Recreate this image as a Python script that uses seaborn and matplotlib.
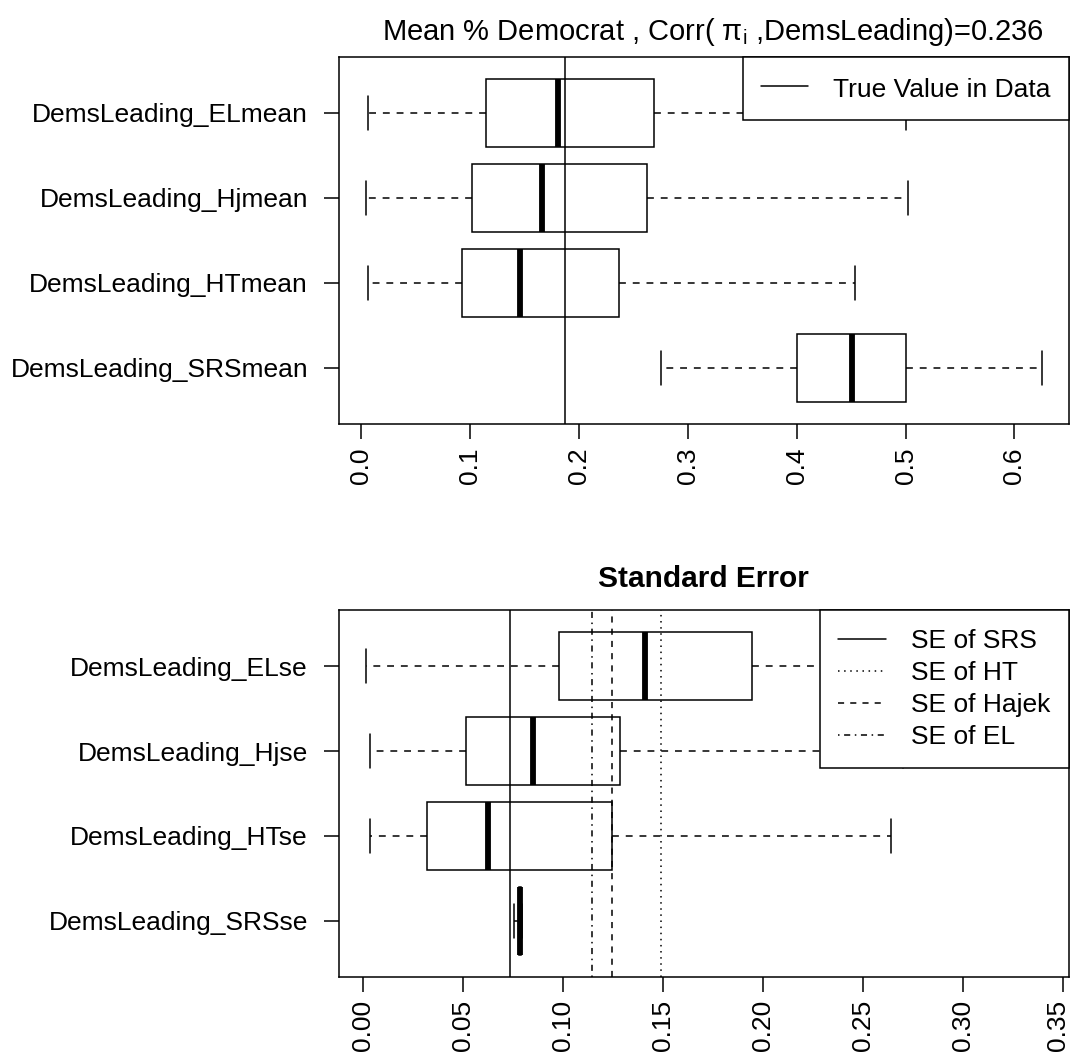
import numpy as np
import pandas as pd
import matplotlib
matplotlib.use("Agg")
import matplotlib.pyplot as plt
import matplotlib.transforms as mtransforms
from matplotlib.lines import Line2D
import seaborn as sns

# ---------------- data (five-number summaries) ----------------
mean_labels = ["DemsLeading_ELmean", "DemsLeading_Hjmean", "DemsLeading_HTmean", "DemsLeading_SRSmean"]
mean_min = [0.0060, 0.0039, 0.0060, 0.2751]
mean_q1 = [0.1145, 0.1016, 0.0921, 0.3999]
mean_med = [0.1804, 0.1657, 0.1455, 0.4503]
mean_q3 = [0.2686, 0.2622, 0.2368, 0.5002]
mean_max = [0.5002, 0.5024, 0.4533, 0.6250]
true_mean = 0.1873

se_labels = ["DemsLeading_ELse", "DemsLeading_Hjse", "DemsLeading_HTse", "DemsLeading_SRSse"]
se_min = [0.0011, 0.0034, 0.0034, 0.0752]
se_q1 = [0.0977, 0.0515, 0.0318, 0.0777]
se_med = [0.1406, 0.0848, 0.0625, 0.0784]
se_q3 = [0.1945, 0.1284, 0.1244, 0.0790]
se_max = [0.3392, 0.2700, 0.2637, 0.0795]

se_ref_labels = ["SE of SRS", "SE of HT", "SE of Hajek", "SE of EL"]
se_ref_values = [0.0733, 0.1486, 0.1244, 0.1141]

mean_ticks = [0.0, 0.1, 0.2, 0.3, 0.4, 0.5, 0.6]
mean_ticklabels = ["0.0", "0.1", "0.2", "0.3", "0.4", "0.5", "0.6"]
se_ticks = [0.00, 0.05, 0.10, 0.15, 0.20, 0.25, 0.30, 0.35]
se_ticklabels = ["0.00", "0.05", "0.10", "0.15", "0.20", "0.25", "0.30", "0.35"]

top_title = "Mean % Democrat , Corr( π$_{\\mathrm{i}}$ ,DemsLeading)=0.236"
bottom_title = "Standard Error"
top_legend = "True Value in Data"

# ---------------- style ----------------
sns.set_theme(style="white")
plt.rcParams["font.family"] = ["Liberation Sans", "DejaVu Sans"]
plt.rcParams["mathtext.fontset"] = "custom"
plt.rcParams["mathtext.rm"] = "Liberation Sans"
plt.rcParams["mathtext.it"] = "Liberation Sans"
plt.rcParams["text.color"] = "black"
plt.rcParams["axes.labelcolor"] = "black"
plt.rcParams["axes.titlecolor"] = "black"
plt.rcParams["axes.edgecolor"] = "black"
plt.rcParams["axes.linewidth"] = 1.1
plt.rcParams["xtick.color"] = "black"
plt.rcParams["ytick.color"] = "black"
plt.rcParams["xtick.labelcolor"] = "black"
plt.rcParams["ytick.labelcolor"] = "black"
plt.rcParams["legend.labelcolor"] = "black"

FS = 19
LW = 1.1
DASH = (0, (4.5, 4.5))
ref_styles = ["-", (0, (1, 3)), (0, (4, 4)), (0, (1, 3, 4, 3))]


def long_frame(labels, mn, q1, md, q3, mx):
    rows = []
    for lab, a, b, c, d, e in zip(labels, mn, q1, md, q3, mx):
        for v in (a, b, c, d, e):
            rows.append((lab, v))
    return pd.DataFrame(rows, columns=["var", "value"])


def draw_box(ax, df, order):
    sns.boxplot(
        data=df, x="value", y="var", order=order, orient="h",
        whis=(0, 100), width=0.8, color="white", linecolor="black",
        linewidth=LW, fliersize=0, saturation=1,
        medianprops=dict(linewidth=4.2, color="black", solid_capstyle="butt"),
        whiskerprops=dict(linestyle=DASH, linewidth=LW, color="black"),
        capprops=dict(linewidth=LW, color="black"),
        boxprops=dict(edgecolor="black", facecolor="white", linewidth=LW),
        ax=ax,
    )


def style_axis(ax, lo, hi, ticks, ticklabels):
    pad = 0.04 * (hi - lo)
    ax.set_xlim(lo - pad, hi + pad)
    ax.set_ylim(3.66, -0.66)
    ax.set_xticks(ticks)
    ax.set_xticklabels(ticklabels, rotation=90, fontsize=FS)
    ax.tick_params(axis="y", labelsize=FS, length=11, width=LW, pad=11, left=True,
                   colors="black")
    ax.tick_params(axis="x", length=11, width=LW, pad=6, bottom=True, colors="black")
    ax.set_xlabel("")
    ax.set_ylabel("")
    for s in ax.spines.values():
        s.set_visible(True)
        s.set_color("black")
        s.set_linewidth(LW)


fig = plt.figure(figsize=(10.71, 10.59), dpi=100)
ax1 = fig.add_axes([0.3162, 0.5998, 0.6817, 0.3466])
ax2 = fig.add_axes([0.3161, 0.0778, 0.6818, 0.3459])

# ---- top panel ----
df_mean = long_frame(mean_labels, mean_min, mean_q1, mean_med, mean_q3, mean_max)
draw_box(ax1, df_mean, mean_labels)
ax1.axvline(true_mean, color="black", linewidth=LW, zorder=5)
style_axis(ax1, min(mean_min), max(mean_max), mean_ticks, mean_ticklabels)
ax1.set_title(top_title, fontsize=21, pad=12, x=0.512, color="black")
leg1 = ax1.legend(
    handles=[Line2D([0], [0], color="black", linewidth=LW)], labels=[top_legend],
    loc="upper right", borderaxespad=0, fontsize=FS, frameon=True, fancybox=False,
    framealpha=1, edgecolor="black", handlelength=1.8, handletextpad=0.95,
    borderpad=0.68, handleheight=1.2,
)
leg1.get_frame().set_linewidth(LW)
leg1.set_zorder(10)

# ---- bottom panel ----
df_se = long_frame(se_labels, se_min, se_q1, se_med, se_q3, se_max)
draw_box(ax2, df_se, se_labels)
handles = []
for v, ls in zip(se_ref_values, ref_styles):
    ax2.axvline(v, color="black", linewidth=LW, linestyle=ls, zorder=5)
    handles.append(Line2D([0], [0], color="black", linewidth=LW, linestyle=ls))
style_axis(ax2, min(se_min), max(se_max), se_ticks, se_ticklabels)
ax2.set_title(bottom_title, fontsize=21.5, fontweight="bold", pad=17, color="black")
leg2 = ax2.legend(
    handles=handles, labels=se_ref_labels, loc="upper right", borderaxespad=0,
    fontsize=FS, frameon=True, fancybox=False, framealpha=1, edgecolor="black",
    handlelength=1.8, handletextpad=0.95, borderpad=0.7, labelspacing=0.31,
)
leg2.get_frame().set_linewidth(LW)
leg2.set_zorder(10)

# keep the last bottom tick label inside the canvas
last = ax2.get_xticklabels()[-1]
last.set_transform(last.get_transform() +
                   mtransforms.ScaledTranslation(-5 / 100, 0, fig.dpi_scale_trans))

fig.savefig("out.png", dpi=100, facecolor="white")
